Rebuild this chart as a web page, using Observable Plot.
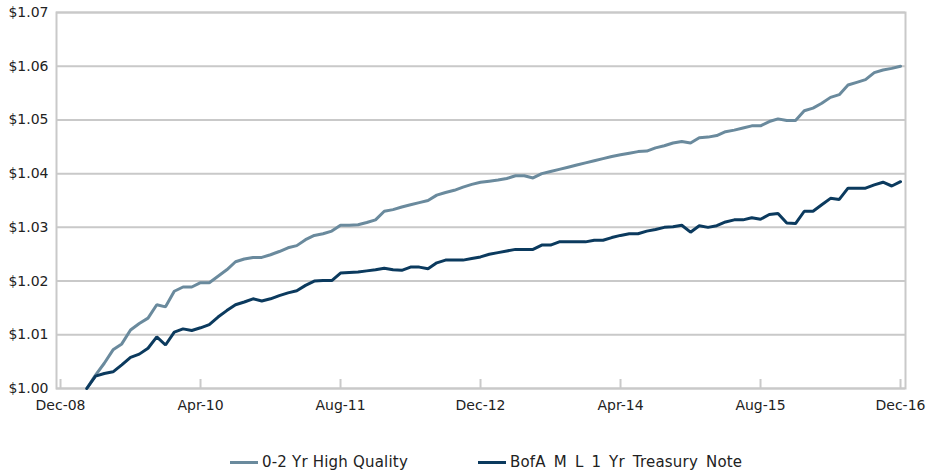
<!DOCTYPE html>
<html>
<head>
<meta charset="utf-8">
<script src="https://cdn.jsdelivr.net/npm/d3@7"></script>
<script src="https://cdn.jsdelivr.net/npm/@observablehq/plot@0.6"></script>
<style>
  html, body { margin: 0; padding: 0; background: #fff; }
  body { width: 932px; height: 474px; overflow: hidden; font-family: "DejaVu Sans", sans-serif; }
  #legend { position: absolute; top: 453px; left: 0; width: 932px; font-size: 15px; color: #222; }
  .item { position: absolute; display: flex; align-items: center; white-space: nowrap; letter-spacing: 0.2px; }
  .sw { width: 28px; height: 3px; margin-right: 4px; }
</style>
</head>
<body>
<div id="chart"></div>
<div id="legend"></div>
<script>
// month index: 0 = Dec-08
const startMonth = 3; // Mar-09
const seriesNames = ["0-2 Yr High Quality", "BofA M L 1 Yr Treasury Note"];
const seriesColors = ["#6a8a9d", "#0b3a5e"];
const highQuality = [
  1.0000, 1.0025, 1.0047, 1.0072, 1.0083, 1.0109, 1.0121, 1.0131, 1.0156, 1.0152,
  1.0181, 1.0189, 1.0189, 1.0197, 1.0197, 1.0209, 1.0221, 1.0236, 1.0241, 1.0244,
  1.0244, 1.0249, 1.0255, 1.0262, 1.0266, 1.0277, 1.0285, 1.0288, 1.0293, 1.0304,
  1.0304, 1.0305, 1.0309, 1.0314, 1.0330, 1.0333, 1.0338, 1.0342, 1.0346, 1.0350,
  1.0360, 1.0365, 1.0369, 1.0375, 1.0380, 1.0384, 1.0386, 1.0388, 1.0391, 1.0396,
  1.0396, 1.0392, 1.0400, 1.0404, 1.0408, 1.0412, 1.0416, 1.0420, 1.0424, 1.0428,
  1.0432, 1.0435, 1.0438, 1.0441, 1.0442, 1.0448, 1.0452, 1.0457, 1.0460, 1.0457,
  1.0467, 1.0468, 1.0471, 1.0478, 1.0481, 1.0485, 1.0489, 1.0489, 1.0497, 1.0502,
  1.0499, 1.0499, 1.0517, 1.0522, 1.0531, 1.0542, 1.0547, 1.0565, 1.0570, 1.0575,
  1.0588, 1.0593, 1.0596, 1.0600
];
const treasury = [
  1.0000, 1.0023, 1.0028, 1.0031, 1.0044, 1.0058, 1.0064, 1.0075, 1.0096, 1.0081,
  1.0105, 1.0111, 1.0108, 1.0113, 1.0119, 1.0133, 1.0145, 1.0156, 1.0161, 1.0167,
  1.0163, 1.0167, 1.0173, 1.0178, 1.0182, 1.0192, 1.0200, 1.0201, 1.0201, 1.0215,
  1.0216, 1.0217, 1.0219, 1.0221, 1.0224, 1.0221, 1.0220, 1.0226, 1.0226, 1.0223,
  1.0234, 1.0239, 1.0239, 1.0239, 1.0242, 1.0245, 1.0250, 1.0253, 1.0256, 1.0259,
  1.0259, 1.0259, 1.0267, 1.0267, 1.0273, 1.0273, 1.0273, 1.0273, 1.0276, 1.0276,
  1.0281, 1.0285, 1.0288, 1.0288, 1.0293, 1.0296, 1.0300, 1.0301, 1.0304, 1.0291,
  1.0303, 1.0300, 1.0303, 1.0310, 1.0314, 1.0314, 1.0318, 1.0315, 1.0324, 1.0326,
  1.0308, 1.0307, 1.0330, 1.0330, 1.0342, 1.0354, 1.0352, 1.0373, 1.0373, 1.0373,
  1.0379, 1.0384, 1.0377, 1.0385
];
const tickMonths = [0, 16, 32, 48, 64, 80, 96];
const tickLabels = ["Dec-08", "Apr-10", "Aug-11", "Dec-12", "Apr-14", "Aug-15", "Dec-16"];
const yTicks = [1.00, 1.01, 1.02, 1.03, 1.04, 1.05, 1.06, 1.07];

const data = [];
[highQuality, treasury].forEach((arr, s) => {
  arr.forEach((v, i) => data.push({ m: startMonth + i, v, series: seriesNames[s] }));
});

const gridColor = "#c9c9c9";
const chart = Plot.plot({
  width: 932,
  height: 432,
  marginLeft: 56,
  marginRight: 27,
  marginTop: 12,
  marginBottom: 44,
  style: { fontFamily: "DejaVu Sans, sans-serif", fontSize: "14px", color: "#222", background: "#fff" },
  x: { domain: [-0.46, 96.57], ticks: tickMonths, tickFormat: (d) => tickLabels[tickMonths.indexOf(d)], tickSize: 0, tickPadding: 12, label: null },
  y: { domain: [1.00, 1.07], ticks: yTicks, tickFormat: (d) => "$" + d.toFixed(2), tickSize: 0, tickPadding: 8, label: null },
  color: { domain: seriesNames, range: seriesColors },
  marks: [
    Plot.ruleY(yTicks, { stroke: gridColor, strokeWidth: 2 }),
    Plot.frame({ stroke: gridColor, strokeWidth: 2 }),
    Plot.ruleX(tickMonths, { stroke: gridColor, strokeWidth: 2, insetTop: 367 }),
    Plot.line(data, { x: "m", y: "v", z: "series", stroke: "series", strokeWidth: 3, strokeLinejoin: "miter" })
  ]
});
document.getElementById("chart").appendChild(chart);

const legend = document.getElementById("legend");
const legendX = [230, 478];
const wordSpacing = ["0px", "3px"];
seriesNames.forEach((n, i) => {
  const it = document.createElement("div");
  it.className = "item";
  it.style.left = legendX[i] + "px";
  it.style.wordSpacing = wordSpacing[i];
  const sw = document.createElement("span");
  sw.className = "sw";
  sw.style.background = seriesColors[i];
  const t = document.createElement("span");
  t.textContent = n;
  it.appendChild(sw); it.appendChild(t);
  legend.appendChild(it);
});
</script>
</body>
</html>
